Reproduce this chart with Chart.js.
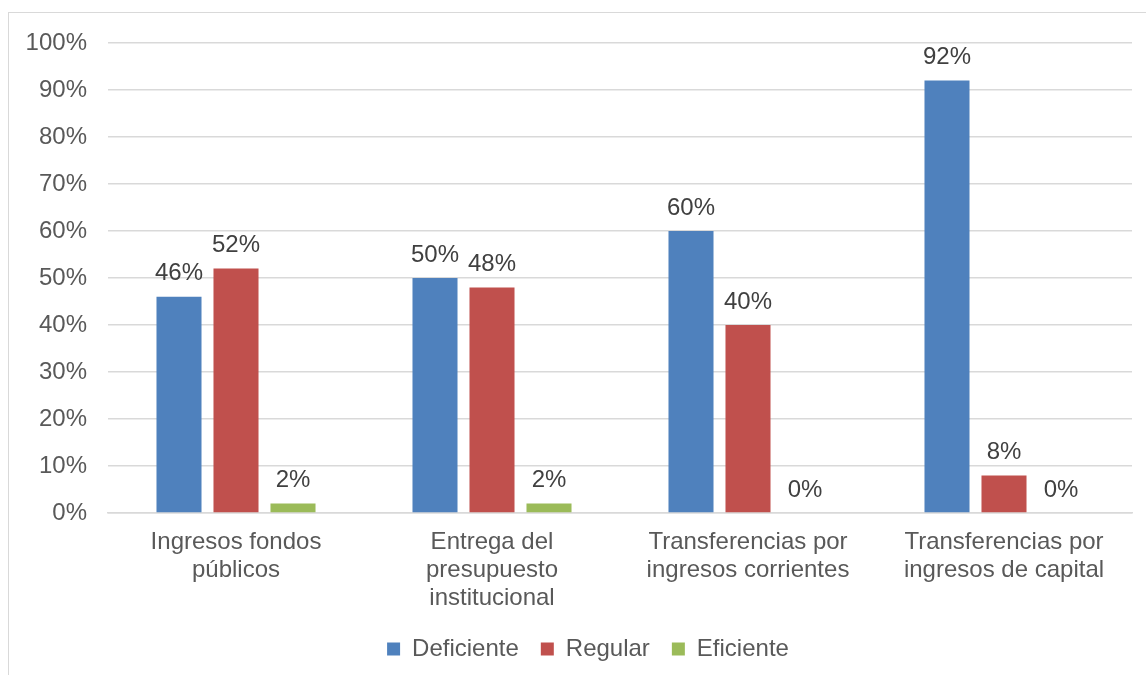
<!DOCTYPE html>
<html>
<head>
<meta charset="utf-8">
<script src="https://cdn.jsdelivr.net/npm/chart.js@4.4.0/dist/chart.umd.min.js"></script>
<style>
    html, body { margin: 0; padding: 0; background: #fff; overflow: hidden; }
    #frame { position: absolute; left: 8px; top: 12px; width: 1160px; height: 700px; border: 1px solid #d9d9d9; }
    #wrap { position: absolute; left: 0; top: 0; width: 1146px; height: 675px; }
</style>
</head>
<body>
<div id="frame"></div>
<div id="wrap"><canvas id="barChart" width="1146" height="675"></canvas></div>
<script>
const categories = [
    ["Ingresos fondos", "públicos"],
    ["Entrega del", "presupuesto", "institucional"],
    ["Transferencias por", "ingresos corrientes"],
    ["Transferencias por", "ingresos de capital"]
];
const seriesNames = ["Deficiente", "Regular", "Eficiente"];
const deficiente = [46, 50, 60, 92];
const regular = [52, 48, 40, 8];
const eficiente = [2, 2, 0, 0];
const yTicks = [0, 10, 20, 30, 40, 50, 60, 70, 80, 90, 100];

const colors = ["#4F81BD", "#C0504D", "#9BBB59"];
const fontFamily = "'Liberation Sans', Arial, sans-serif";

// draws the "46%" style labels above each bar
const valueLabels = {
    id: "valueLabels",
    afterDatasetsDraw(chart) {
        const ctx = chart.ctx;
        ctx.save();
        ctx.font = "24px " + fontFamily;
        ctx.fillStyle = "#404040";
        ctx.textAlign = "center";
        ctx.textBaseline = "alphabetic";
        chart.data.datasets.forEach((ds, i) => {
            const meta = chart.getDatasetMeta(i);
            meta.data.forEach((bar, j) => {
                ctx.fillText(ds.data[j] + "%", bar.x, bar.y - 16.5);
            });
        });
        ctx.restore();
    }
};

// the legend in the original sits a bit right of centre
const legendShift = {
    id: "legendShift",
    afterLayout(chart) {
        if (!chart.legend) return;
        chart.legend.left += 22;
        chart.legend.right += 22;
    }
};

const ctx = document.getElementById("barChart").getContext("2d");
new Chart(ctx, {
    type: "bar",
    data: {
        labels: categories,
        datasets: [
            { label: seriesNames[0], data: deficiente, backgroundColor: colors[0] },
            { label: seriesNames[1], data: regular, backgroundColor: colors[1] },
            { label: seriesNames[2], data: eficiente, backgroundColor: colors[2] }
        ]
    },
    options: {
        responsive: false,
        animation: false,
        categoryPercentage: 0.668,
        barPercentage: 0.79,
        layout: { padding: { top: 43, right: 14, bottom: 4, left: 0 } },
        plugins: {
            tooltip: { enabled: false },
            legend: {
                position: "bottom",
                labels: {
                    boxWidth: 13,
                    boxHeight: 13,
                    padding: 22,
                    color: "#595959",
                    font: { family: fontFamily, size: 24 }
                }
            }
        },
        scales: {
            y: {
                min: 0,
                max: 100,
                afterFit(scale) { scale.width = 108; },
                afterBuildTicks(scale) { scale.ticks = yTicks.map(v => ({ value: v })); },
                border: { display: false },
                grid: { color: "#d9d9d9", lineWidth: 1.5, drawTicks: false },
                ticks: {
                    padding: 21,
                    color: "#595959",
                    font: { family: fontFamily, size: 24 },
                    callback: v => v + "%"
                }
            },
            x: {
                afterFit(scale) { scale.height = 102; },
                border: { color: "#d9d9d9", width: 1.5 },
                grid: { display: false },
                ticks: {
                    padding: 8,
                    maxRotation: 0,
                    autoSkip: false,
                    color: "#595959",
                    font: { family: fontFamily, size: 24, lineHeight: 1.15 }
                }
            }
        }
    },
    plugins: [valueLabels, legendShift]
});
</script>
</body>
</html>
